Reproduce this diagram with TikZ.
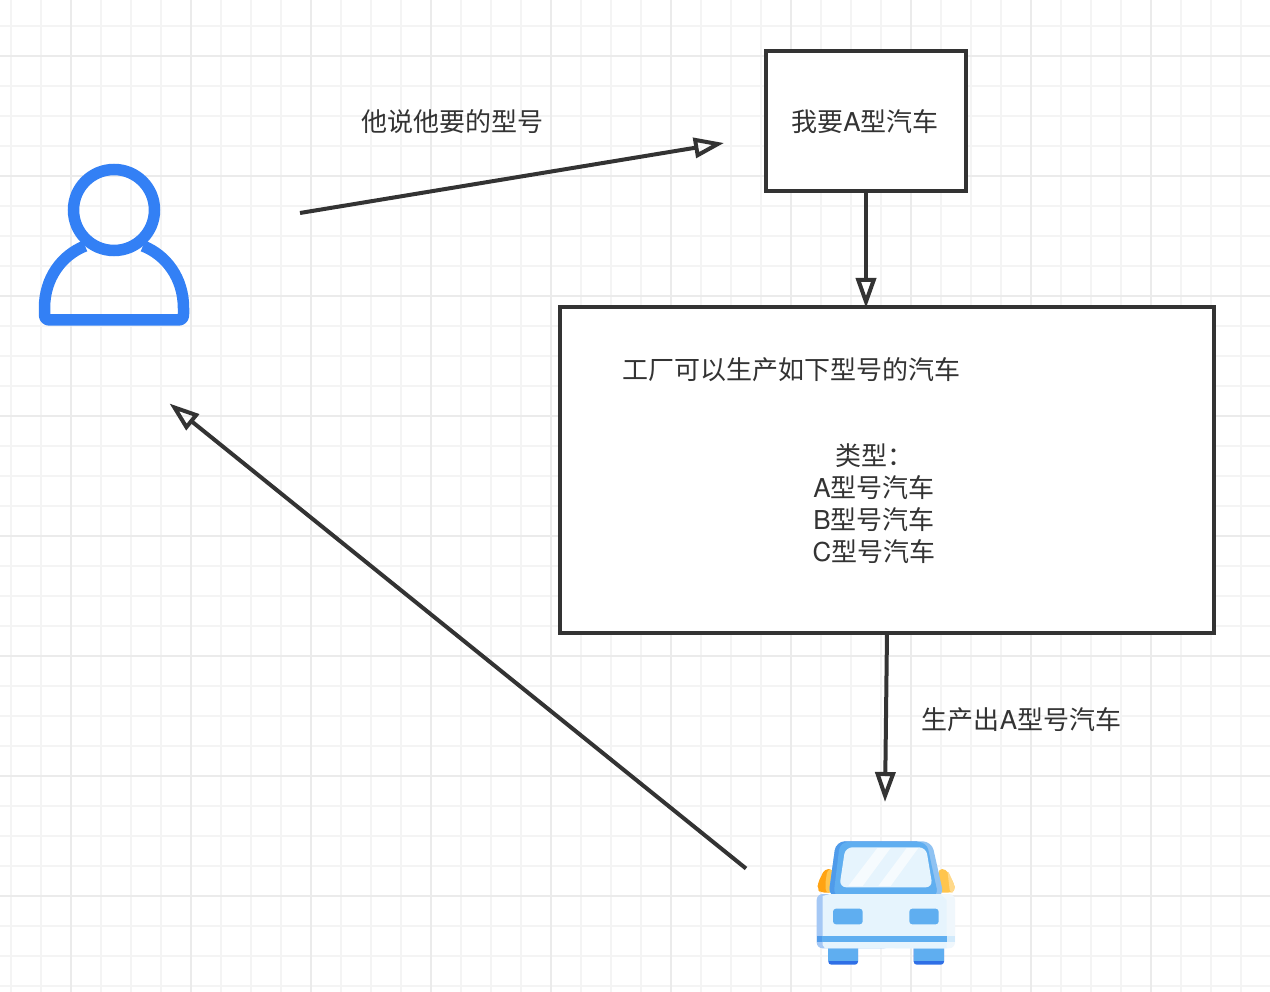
\documentclass[tikz,border=0pt]{standalone}
\usepackage{fontspec}
\setmainfont{Noto Sans CJK SC}[Scale=1]
\newfontfamily\latinf{TeX Gyre Heros}
\usetikzlibrary{arrows.meta}
\definecolor{ink}{HTML}{333333}
\definecolor{gridminor}{HTML}{F4F4F4}
\definecolor{gridmajor}{HTML}{EBEBEB}
\definecolor{pblue}{HTML}{3380F5}
\definecolor{carblue}{HTML}{5FAEF0}
\definecolor{cardark}{HTML}{4F9BEA}
\definecolor{carroof}{HTML}{8FC2F2}
\definecolor{carlight}{HTML}{E6F4FD}
\definecolor{carpale}{HTML}{F0F7FC}
\definecolor{carglint}{HTML}{F6FBFE}
\definecolor{carside}{HTML}{A5C8F5}
\definecolor{carfoot}{HTML}{2F6FE6}
\definecolor{lampdark}{HTML}{FFA312}
\definecolor{lampmid}{HTML}{FFC54D}
\definecolor{lamppale}{HTML}{FFD98A}
\tikzset{
  lbl/.style={font=\fontsize{26}{32}\selectfont, text=ink, inner sep=0pt},
  boxn/.style={draw=ink, line width=4pt, fill=white, inner sep=0pt, minimum width=#1},
  conn/.style={draw=ink, line width=4pt, -{Triangle[open,length=30pt,width=20pt,line width=4pt]}},
  anchorpt/.style={inner sep=0pt, minimum size=0pt},
}
\begin{document}
\begin{tikzpicture}[x=1pt,y=-1pt]
\useasboundingbox (0,0) rectangle (1270,992);
\fill[white] (0,0) rectangle (1270,992);
% grid
\foreach \x in {11,41,...,1270} \draw[gridminor,line width=2.4pt] (\x,0) -- (\x,992);
\foreach \y in {26,56,...,992} \draw[gridminor,line width=2.4pt] (0,\y) -- (1270,\y);
\foreach \x in {71,191,...,1270} \draw[gridmajor,line width=2.4pt] (\x,0) -- (\x,992);
\foreach \y in {56,176,...,992} \draw[gridmajor,line width=2.4pt] (0,\y) -- (1270,\y);
% person
\draw[pblue,line width=11.5pt] (114,210) circle (40.5);
\draw[pblue,line width=11.5pt,line join=round]
  (85,246) .. controls (62,255) and (44.5,278) .. (44.5,308) -- (44.5,314) .. controls (44.5,318) and (46,320) .. (50,320)
  -- (178,320) .. controls (182,320) and (183.5,318) .. (183.5,314) -- (183.5,308)
  .. controls (183.5,278) and (166,255) .. (143,246);
% car
\begin{scope}[shift={(790,820)},x=0.33333pt,y=-0.33333pt]
  \fill[carfoot,rounded corners=3pt] (115,370) rectangle (204,434);
  \fill[carfoot,rounded corners=3pt] (371,370) rectangle (462,434);
  \fill[carblue] (115,370) rectangle (204,424);
  \fill[carblue] (371,370) rectangle (462,424);
  % lamps
  \fill[lampdark,rounded corners=4pt] (128,147) -- (104,147) -- (83,190) -- (83,208) -- (92,218) -- (128,218) -- cycle;
  \fill[lampmid,rounded corners=3pt] (128,147) -- (112,150) -- (106,190) -- (108,218) -- (128,218) -- cycle;
  \fill[lampmid,rounded corners=4pt] (445,147) -- (468,147) -- (494,195) -- (494,208) -- (486,218) -- (445,218) -- cycle;
  \fill[lamppale,rounded corners=3pt] (472,150) -- (480,165) -- (494,198) -- (494,208) -- (486,218) -- (480,218) -- cycle;
  % cabin
  \fill[carroof,rounded corners=9pt] (115,230) -- (138,64) -- (425,64) -- (462,230) -- cycle;
  \fill[cardark,rounded corners=9pt] (115,230) -- (138,64) -- (405,64) -- (445,230) -- cycle;
  \fill[carblue,rounded corners=8pt] (130,230) -- (150,66) -- (410,66) -- (445,230) -- cycle;
  \fill[carlight,rounded corners=7pt] (148,202) -- (166,82) -- (408,82) -- (428,202) -- cycle;
  \fill[carglint] (175,198) -- (262,84) -- (302,84) -- (218,198) -- cycle;
  \fill[carglint] (265,198) -- (350,84) -- (385,84) -- (302,198) -- cycle;
  % body
  \fill[carside,rounded corners=6pt] (80,385) -- (80,222) -- (300,222) -- (300,385) -- cycle;
  \fill[carpale,rounded corners=6pt] (300,385) -- (300,222) -- (495,222) -- (495,385) -- cycle;
  \fill[carlight] (98,228) -- (120,222) -- (450,222) -- (470,240) -- (470,385) -- (105,385) -- (98,375) -- cycle;
  \fill[cardark] (80,348) rectangle (96,365);
  \fill[carblue] (96,348) rectangle (471,365);
  \fill[carlight!85!carblue] (471,348) rectangle (495,365);
  \fill[carblue,rounded corners=3pt] (129,266) rectangle (218,313);
  \fill[carblue,rounded corners=3pt] (358,266) rectangle (446,313);
\end{scope}
% boxes
\node[boxn=200pt, minimum height=140pt] (want) at (866,121) {};
\node[boxn=654pt, minimum height=326pt] (factory) at (887,470) {};
% anchors
\node[anchorpt] (person) at (114,245) {};
\node[anchorpt] (car) at (885,902) {};
\coordinate (a1s) at (300,213);
\coordinate (a1e) at (724,143);
\coordinate (a2s) at (746,868.5);
\coordinate (a2e) at (169.5,403.5);
\coordinate (a3s) at (887,633);
\coordinate (a3e) at (885,802);
\coordinate (a4s) at (866,191);
\coordinate (a4e) at (866,308);
% connectors
\draw[conn] (a1s) -- (a1e);
\draw[conn] (a4s) -- (a4e);
\draw[conn] (a3s) -- (a3e);
\draw[conn] (a2s) -- (a2e);
% labels
\node[lbl] (l1) at (452,122) {他说他要的型号};
\node[lbl] (l2) at (865,122) {我要{\latinf A}型汽车};
\node[lbl] (l3) at (791,370) {工厂可以生产如下型号的汽车};
\node[lbl,align=center] (l4) at (874,504) {类型：\\{\latinf A}型号汽车\\{\latinf B}型号汽车\\{\latinf C}型号汽车};
\node[lbl] (l5) at (1021.5,720) {生产出{\latinf A}型号汽车};
\end{tikzpicture}
\end{document}
